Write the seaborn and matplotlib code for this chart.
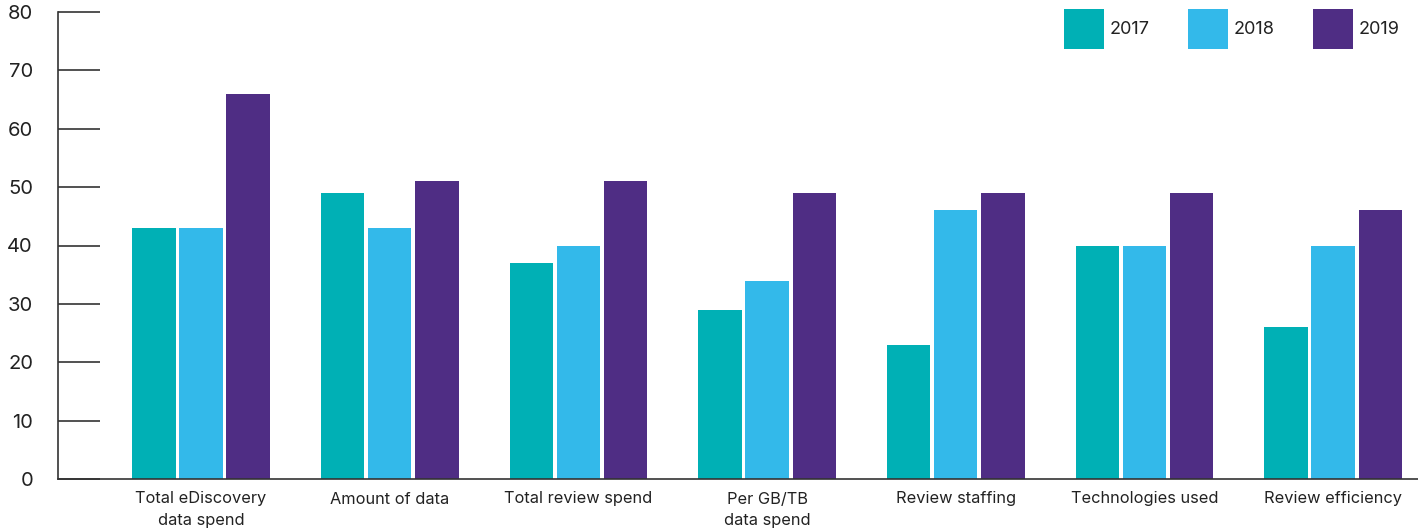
import matplotlib
matplotlib.use("Agg")
import matplotlib.pyplot as plt
import seaborn as sns
import pandas as pd

categories = ["Total eDiscovery\ndata spend", "Amount of data", "Total review spend",
              "Per GB/TB\ndata spend", "Review staffing", "Technologies used", "Review efficiency"]
years = ["2017", "2018", "2019"]
values_2017 = [43, 49, 37, 29, 23, 40, 26]
values_2018 = [43, 43, 40, 34, 46, 40, 40]
values_2019 = [66, 51, 51, 49, 49, 49, 46]
y_ticks = [0, 10, 20, 30, 40, 50, 60, 70, 80]
colors = ["#00B0B5", "#33B9EA", "#4F2D84"]

rows = []
for yr, vals in zip(years, [values_2017, values_2018, values_2019]):
    for c, v in zip(categories, vals):
        rows.append({"category": c, "year": yr, "value": v})
df = pd.DataFrame(rows)

sns.set_theme(style="white")
plt.rcParams["font.family"] = ["Inter", "DejaVu Sans"]

fig = plt.figure(figsize=(14.18, 5.30), dpi=100)
ax = fig.add_axes([58 / 1418, 1 - 479 / 530, 1 - 58 / 1418, 467 / 530])

sns.barplot(data=df, x="category", y="value", hue="year", palette=colors,
            width=0.75, gap=0.08, ax=ax, saturation=1, linewidth=0, errorbar=None)

ax.set_ylim(0, 80)
ax.set_xlim(-0.758, 6.45)
ax.set_yticks(y_ticks)
ax.set_xlabel("")
ax.set_ylabel("")

for s in ["top", "right"]:
    ax.spines[s].set_visible(False)
for s in ["left", "bottom"]:
    ax.spines[s].set_color("#333333")
    ax.spines[s].set_linewidth(1.2)

ax.tick_params(axis="y", direction="in", length=30, width=1.2, color="#333333",
               pad=18, labelsize=14.5, labelcolor="#222222", left=True)
ax.tick_params(axis="x", length=0, pad=9, labelsize=11.8, labelcolor="#222222")
for lab in ax.get_xticklabels():
    lab.set_multialignment("center")
    lab.set_verticalalignment("top")
    lab.set_linespacing(1.5)

h, l = ax.get_legend_handles_labels()
ax.legend(h, l, loc="upper left", bbox_to_anchor=(1064 / 1418, 1 - 9 / 530),
          bbox_transform=fig.transFigure, ncol=3, frameon=False, fontsize=13,
          handlelength=2.2, handleheight=3.0, handletextpad=0.35, columnspacing=2.1,
          borderpad=0, borderaxespad=0, labelcolor="#222222")

fig.savefig("out.png", dpi=100)
